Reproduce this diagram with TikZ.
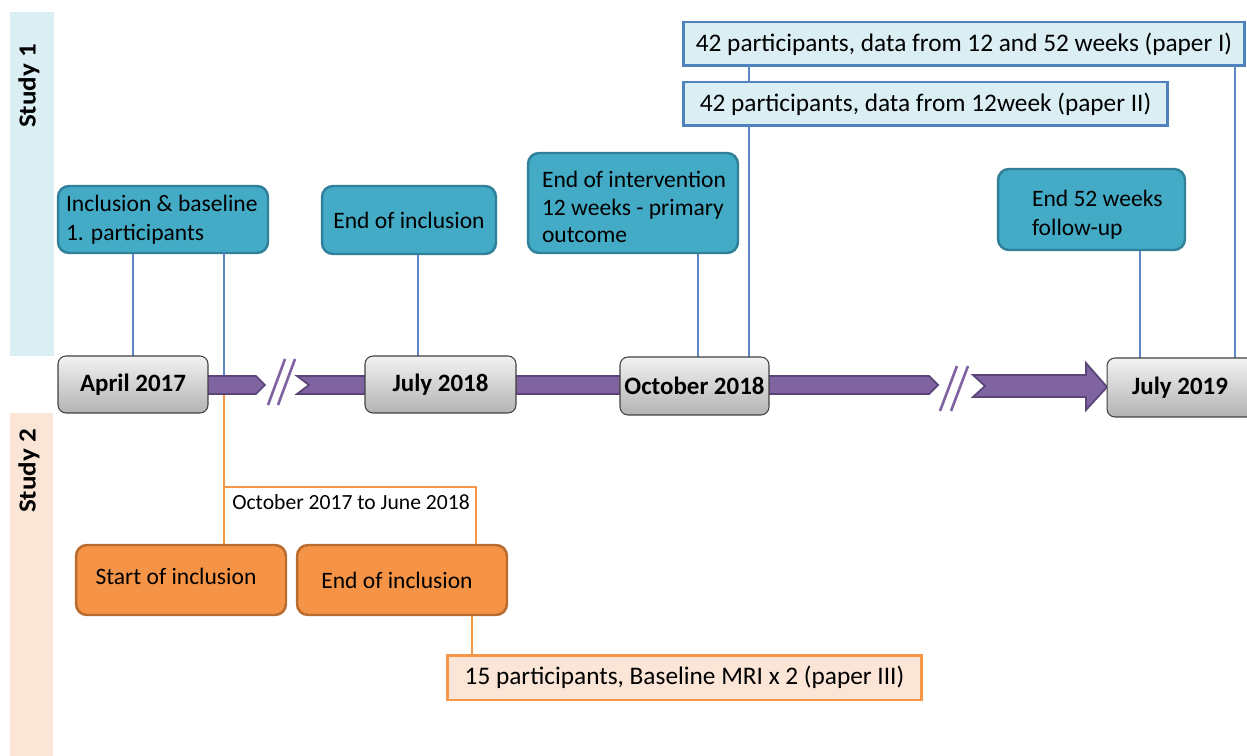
\documentclass[tikz,border=0pt]{standalone}
\usepackage{fontspec}
\setmainfont{Carlito}
\definecolor{bandblue}{HTML}{DAEEF3}
\definecolor{bandpeach}{HTML}{FBE5D6}
\definecolor{tealfill}{HTML}{43ABC6}
\definecolor{tealdraw}{HTML}{31809A}
\definecolor{lineblue}{HTML}{5B87C7}
\definecolor{paperdraw}{HTML}{4F81BD}
\definecolor{orangefill}{HTML}{F59446}
\definecolor{orangedraw}{HTML}{B86C30}
\definecolor{orangeline}{HTML}{F79646}
\definecolor{purplefill}{HTML}{8064A2}
\definecolor{purpledraw}{HTML}{5B4578}
\tikzset{
  basefont/.style={font=\fontsize{13.4}{16.2}\selectfont},
  paperfont/.style={font=\fontsize{14.4}{17}\selectfont},
  tealbox/.style={basefont, draw=tealdraw, fill=tealfill, line width=1.4pt, rounded corners=0.22cm, inner sep=0pt},
  datebox/.style={draw=black!75, top color=black!5, bottom color=black!30, rounded corners=0.16cm, line width=0.6pt,
    font=\bfseries\fontsize{14.2}{16}\selectfont, minimum width=3cm, minimum height=1.14cm, inner sep=0pt},
  paperbox/.style={paperfont, draw=paperdraw, fill=bandblue, line width=1.7pt, minimum height=0.88cm, inner sep=0pt},
  orangebox/.style={basefont, draw=orangedraw, fill=orangefill, line width=1.4pt, rounded corners=0.22cm,
    minimum width=4.2cm, minimum height=1.4cm, inner sep=0pt},
  paperthree/.style={paperfont, draw=orangeline, fill=bandpeach, line width=1.7pt, minimum height=0.9cm, minimum width=9.5cm, inner sep=0pt},
  blueline/.style={lineblue, line width=1.5pt},
  orline/.style={orangeline, line width=1.6pt},
  purpleband/.style={fill=purplefill, draw=purpledraw, line width=1pt, line join=miter},
  slash/.style={purplefill, line width=1.5pt},
  studylabel/.style={rotate=90, font=\bfseries\fontsize{14}{16}\selectfont}
}
\begin{document}
\begin{tikzpicture}[x=0.02cm, y=-0.02cm]
\useasboundingbox (0,0) rectangle (1247,756);
\clip (0,0) rectangle (1247,756);
% bands
\fill[bandblue] (10,12) rectangle (54,356);
\fill[bandpeach] (10,413) rectangle (53,756);
\node[studylabel] (s1) at (29,86) {\scalebox{1.1}[1]{Study 1}};
\node[studylabel] (s2) at (29,471) {\scalebox{1.1}[1]{Study 2}};

% teal event boxes
\node[tealbox, minimum width=4.2cm, minimum height=1.34cm, text width=4.2cm, align=flush left] (incl) at (163,219.5)
  {\hspace*{0.16cm}Inclusion \& baseline\\\hspace*{0.16cm}1. participants};
\node[tealbox, minimum width=3.48cm, minimum height=1.36cm, align=center] (endincl) at (409,220) {End of inclusion};
\node[tealbox, minimum width=4.2cm, minimum height=2.0cm, text width=4.2cm, align=flush left,
  font=\fontsize{13.4}{15.6}\selectfont] (endint) at (633,203)
  {\hspace*{0.28cm}\rule{0pt}{\dimexpr0.7\baselineskip+3pt\relax}End of intervention\\\hspace*{0.28cm}12 weeks - primary\\\hspace*{0.28cm}outcome};
\node[tealbox, minimum width=3.74cm, minimum height=1.62cm, text width=3.74cm, align=flush left,
  font=\fontsize{13.4}{16.6}\selectfont] (end52) at (1091.5,209.5)
  {\hspace*{0.68cm}\rule{0pt}{\dimexpr0.7\baselineskip+3.5pt\relax}End 52 weeks\\\hspace*{0.68cm}follow-up};

% paper boxes
\node[paperbox, minimum width=11.24cm] (p1) at (964,44) {42 participants, data from 12 and 52 weeks (paper I)};
\node[paperbox, minimum width=9.7cm] (p2) at (925.5,104) {42 participants, data from 12week (paper II)};

% date box positions
\coordinate (aprc) at (133,384.5);
\coordinate (julc) at (440.5,384.5);
\coordinate (octc) at (694.5,386);

% connector coordinates
\coordinate (b1top) at (224,253);
\coordinate (b1bot) at (224,376);
\coordinate (b2) at (418,356);
\coordinate (o1top) at (224,394);
\coordinate (oturn) at (224,487);
\coordinate (ocorner) at (476,487);
\coordinate (p1a) at (749,66);
\coordinate (p2a) at (749,83);
\coordinate (p2b) at (749,126);
\coordinate (octa) at (749,357);
\coordinate (p1b) at (1235,66);
\coordinate (jul9a) at (1235,358);
\coordinate (e52a) at (1140,358);
\coordinate (intb) at (698,357);

% orange boxes
\node[orangebox] (start) at (181,580) {\raisebox{4pt}{Start of inclusion}\hspace*{0.2cm}};
\node[orangebox] (oend) at (402,580) {End of inclusion\hspace*{0.2cm}};
\node[paperthree] (p3) at (684.5,677.5) {15 participants, Baseline MRI x 2 (paper III)};

% blue connectors
\draw[blueline] (incl.south -| aprc) -- ++(0,103);
\draw[blueline] (b1top) -- (b1bot);
\draw[blueline] (endincl.south -| b2) -- (b2);
\draw[blueline] (endint.south -| intb) -- (intb);
\draw[blueline] (p1a) -- (p2a);
\draw[blueline] (p2b) -- (octa);
\draw[blueline] (p1b) -- (jul9a);
\draw[blueline] (end52.south -| e52a) -- (e52a);

% orange connectors
\draw[orline] (o1top) -- (start.north -| o1top);
\draw[orline] (oturn) -- (ocorner) -- (oend.north -| ocorner);
\node[anchor=base, font=\fontsize{12.3}{14}\selectfont] (period) at (351,509) {October 2017 to June 2018};
\draw[orline] (oend.south -| 472,0) -- (p3.north -| 472,0);

% purple timeline
\draw[purpleband] (200,376) -- (256,376) -- (265,385) -- (256,394) -- (200,394) -- cycle;
\draw[slash] (268,405) -- (285,359);
\draw[slash] (278,405) -- (295,359);
\draw[purpleband] (297,376) -- (380,376) -- (380,394) -- (297,394) -- (309,385) -- cycle;
\draw[purpleband] (500,376) -- (640,376) -- (640,394) -- (500,394) -- cycle;
\draw[purpleband] (750,376) -- (929,376) -- (938,385) -- (929,394) -- (750,394) -- cycle;
\draw[slash] (940,411) -- (957,366);
\draw[slash] (951,411) -- (968,366);
\draw[purpleband] (973,375) -- (1086,375) -- (1086,363) -- (1107,387) -- (1086,410) -- (1086,397) -- (973,397) -- (985,386) -- cycle;

% date boxes
\node[datebox] (apr) at (aprc) {April 2017};
\node[datebox, minimum width=3.02cm] (jul18) at (julc) {July 2018};
\node[datebox, minimum width=2.98cm, minimum height=1.16cm] (oct) at (octc) {October 2018};
\node[datebox, minimum width=3.2cm, minimum height=1.18cm] (jul19) at (1187,387.5) {};
\node[font=\bfseries\fontsize{14.2}{16}\selectfont] (jul19t) at (1180,387.5) {July 2019};
\end{tikzpicture}
\end{document}
